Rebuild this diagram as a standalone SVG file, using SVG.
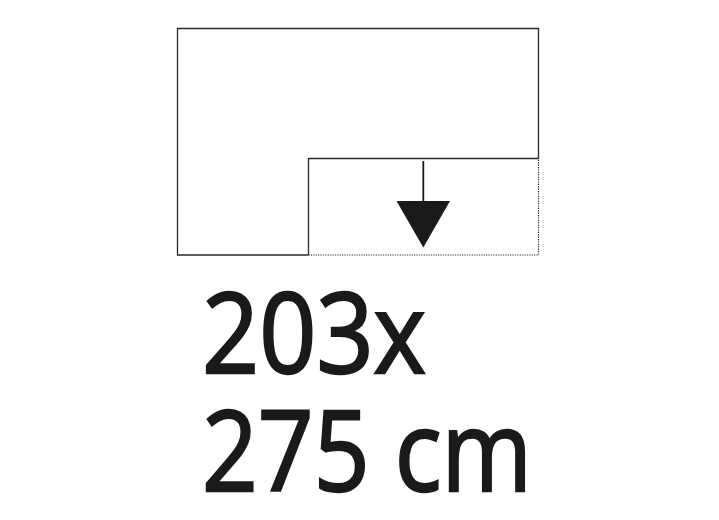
<svg xmlns="http://www.w3.org/2000/svg" width="719" height="520" viewBox="0 0 719 520">
<style>
.s{fill:none;stroke:#2a2a2a;stroke-width:1.3}
.d{fill:none;stroke:#2a2a2a;stroke-width:1.2;stroke-dasharray:1.2 1.2}
.t{font-family:"Open Sans","Noto Sans",sans-serif;font-size:112px;font-weight:400;fill:#1a1a1a;stroke:#1a1a1a;stroke-width:2.4}
</style>
<rect width="719" height="520" fill="#fff"/>
<g id="outline">
<path class="s" d="M308.5 255 H177.5 V28.5 H538.5 V159"/>
<path class="s" d="M308.5 255 V158.5 H538.5"/>
<path class="d" d="M308.5 255 H538.5 V159"/>
</g>
<g id="arrow">
<line x1="423.3" y1="161" x2="423.3" y2="203" stroke="#1a1a1a" stroke-width="1.8"/>
<polygon points="396.5,201 450,201 423.3,247.5" fill="#1a1a1a"/>
</g>
<g id="label">
<text class="t" x="202" y="373" textLength="224" lengthAdjust="spacingAndGlyphs">203x</text>
<text class="t" x="202" y="491" textLength="330" lengthAdjust="spacingAndGlyphs">275 cm</text>
</g>
</svg>
